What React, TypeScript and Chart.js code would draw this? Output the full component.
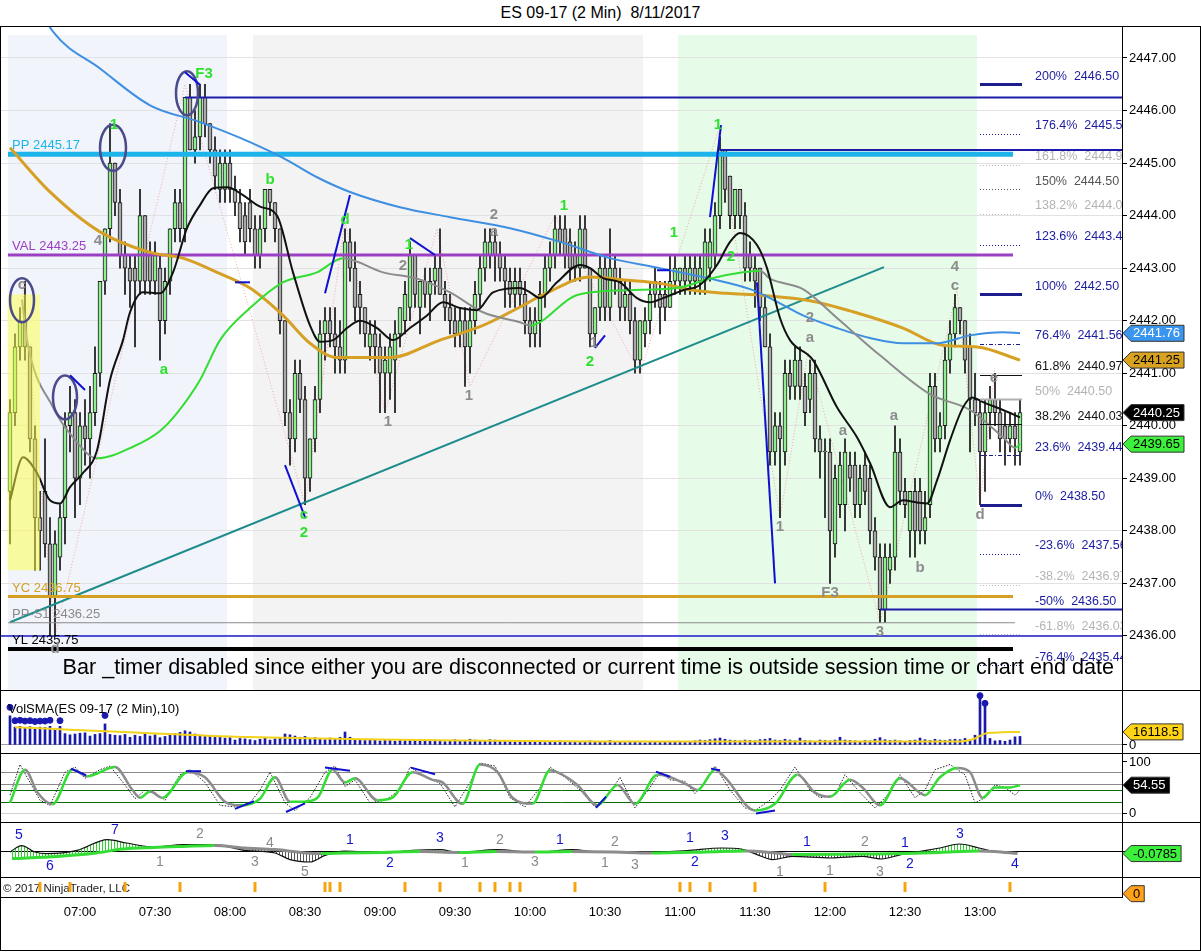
import React, { useEffect, useRef } from "react";
import { Chart, registerables } from "chart.js";

Chart.register(...registerables);

const FONT = "Arial, 'Liberation Sans', Helvetica, sans-serif";
const X_MIN = 388.4; // minutes after midnight at the left edge of the plot
const X_MAX = 836.8; // minutes after midnight at the right edge of the plot
const AXIS_W = 79;

// ---------- categories ----------
const FIRST_BAR_MIN = 392; // 06:32
const BAR_MINUTES = 2;
const timeTicks = [420, 450, 480, 510, 540, 570, 600, 630, 660, 690, 720, 750, 780];
const priceTicks = [2436, 2437, 2438, 2439, 2440, 2441, 2442, 2443, 2444, 2445, 2446, 2447];

// ---------- price bars ----------
const opens = [
  2438.75, 2440.25, 2441.5, 2442.0, 2441.5, 2439.75, 2438.25, 2438.75, 2437.75, 2436.75,
  2437.5, 2438.25, 2440.0, 2440.25, 2439.0, 2440.0, 2439.75, 2440.25, 2441.0, 2442.75,
  2443.75, 2445.0, 2444.25, 2443.25, 2443.0, 2443.0, 2442.75, 2444.0, 2443.25, 2442.75,
  2443.0, 2442.0, 2442.75, 2443.75, 2444.25, 2443.75, 2446.25, 2445.25, 2445.5, 2446.25,
  2445.75, 2445.25, 2444.5, 2444.5, 2445.0, 2444.5, 2444.25, 2444.0, 2444.25, 2443.75,
  2443.25, 2443.75, 2444.5, 2444.25, 2443.75, 2442.0, 2440.25, 2439.75, 2441.0, 2440.5,
  2439.0, 2439.75, 2440.5, 2441.75, 2442.0, 2441.75, 2441.5, 2441.25, 2443.5, 2443.0,
  2442.5, 2442.25, 2441.5, 2441.75, 2441.5, 2441.0, 2441.0, 2441.25, 2441.75, 2442.0,
  2442.25, 2443.25, 2442.25, 2442.75, 2442.5, 2442.75, 2443.0, 2442.5, 2442.25, 2442.0,
  2441.75, 2442.0, 2441.5, 2442.0, 2442.5, 2443.0, 2443.25, 2443.5, 2443.25, 2443.0,
  2442.75, 2442.5, 2442.75, 2442.5, 2442.0, 2441.75, 2442.0, 2442.5, 2443.0, 2443.25,
  2443.75, 2443.75, 2443.5, 2443.25, 2443.0, 2443.75, 2443.0, 2441.75, 2442.25, 2443.0,
  2442.25, 2443.0, 2442.75, 2442.25, 2442.5, 2442.0, 2441.25, 2441.75, 2442.0, 2442.75,
  2442.5, 2442.5, 2442.25, 2442.75, 2442.75, 2443.0, 2442.75, 2443.0, 2442.75, 2442.75,
  2443.0, 2443.25, 2444.0, 2445.25, 2444.75, 2444.0, 2444.5, 2444.0, 2443.25, 2443.0,
  2443.0, 2442.25, 2441.5, 2439.5, 2440.0, 2439.5, 2441.0, 2440.75, 2441.25, 2440.75,
  2440.5, 2441.0, 2439.75, 2439.5, 2439.5, 2437.75, 2438.5, 2438.5, 2439.25, 2439.25,
  2438.5, 2439.25, 2439.0, 2438.0, 2437.5, 2436.5, 2437.25, 2437.5, 2439.5, 2438.75,
  2438.0, 2438.75, 2438.75, 2438.0, 2438.5, 2440.75, 2439.75, 2440.0, 2441.25, 2441.75,
  2442.25, 2442.0, 2441.5, 2440.5, 2440.25, 2439.5, 2440.25, 2440.5, 2440.25, 2440.0,
  2439.75, 2440.0, 2439.5,
];
const highs = [
  2440.5, 2441.75, 2442.25, 2442.75, 2441.5, 2440.0, 2438.75, 2439.75, 2438.25, 2438.0,
  2438.5, 2440.25, 2440.75, 2440.5, 2440.25, 2440.5, 2440.75, 2441.5, 2442.75, 2443.75,
  2445.75, 2445.0, 2444.5, 2443.5, 2443.25, 2443.25, 2444.5, 2444.0, 2443.5, 2443.5,
  2443.25, 2443.0, 2443.75, 2444.5, 2444.5, 2446.25, 2446.5, 2446.0, 2446.5, 2446.5,
  2445.75, 2445.5, 2445.25, 2445.25, 2445.25, 2444.75, 2444.5, 2444.25, 2444.5, 2444.0,
  2444.0, 2444.5, 2444.5, 2444.25, 2443.75, 2442.0, 2440.5, 2441.25, 2441.25, 2440.75,
  2439.75, 2440.75, 2442.0, 2442.25, 2442.25, 2442.25, 2442.0, 2443.75, 2443.75, 2443.5,
  2442.75, 2442.25, 2442.0, 2442.0, 2441.75, 2441.5, 2441.75, 2442.0, 2442.25, 2442.75,
  2443.5, 2443.25, 2442.75, 2443.0, 2443.0, 2443.25, 2443.75, 2442.75, 2442.5, 2442.25,
  2442.25, 2442.25, 2442.25, 2442.75, 2443.25, 2443.75, 2443.75, 2443.75, 2443.5, 2443.25,
  2443.0, 2443.0, 2443.0, 2442.75, 2442.25, 2442.25, 2442.75, 2443.25, 2443.5, 2444.0,
  2444.0, 2444.0, 2443.75, 2443.5, 2444.0, 2444.0, 2443.0, 2442.25, 2443.25, 2443.25,
  2443.75, 2443.25, 2443.0, 2442.75, 2442.75, 2442.25, 2442.0, 2442.25, 2442.75, 2443.0,
  2442.75, 2442.75, 2443.25, 2443.25, 2443.0, 2443.25, 2443.25, 2443.25, 2443.25, 2443.75,
  2443.75, 2444.25, 2445.5, 2445.25, 2444.75, 2444.5, 2444.5, 2444.25, 2443.5, 2443.25,
  2443.0, 2442.5, 2441.75, 2440.25, 2440.25, 2441.25, 2441.25, 2441.5, 2441.5, 2441.0,
  2441.25, 2441.25, 2440.0, 2439.75, 2439.75, 2439.25, 2439.5, 2439.75, 2439.5, 2439.5,
  2439.25, 2439.5, 2439.25, 2438.25, 2437.75, 2437.75, 2437.75, 2440.0, 2439.75, 2439.0,
  2438.75, 2439.0, 2439.0, 2438.75, 2441.0, 2441.0, 2440.25, 2441.5, 2442.0, 2442.5,
  2442.25, 2442.0, 2441.75, 2441.0, 2440.5, 2440.5, 2440.75, 2441.0, 2440.5, 2440.25,
  2440.25, 2440.25, 2440.5,
];
const lows = [
  2437.75, 2440.0, 2441.25, 2441.25, 2439.5, 2437.25, 2437.25, 2437.5, 2436.0, 2436.0,
  2437.25, 2437.75, 2439.5, 2438.25, 2438.5, 2439.25, 2439.0, 2440.0, 2440.75, 2442.5,
  2443.5, 2444.0, 2443.0, 2442.5, 2442.25, 2441.5, 2442.5, 2442.5, 2442.5, 2442.5,
  2441.25, 2441.75, 2442.5, 2443.5, 2443.5, 2443.5, 2445.25, 2445.0, 2445.25, 2445.5,
  2445.0, 2444.5, 2444.25, 2444.25, 2444.25, 2444.0, 2443.5, 2443.25, 2443.5, 2443.0,
  2443.0, 2443.5, 2444.0, 2443.5, 2441.75, 2440.0, 2439.25, 2439.5, 2440.25, 2438.5,
  2438.75, 2439.5, 2440.25, 2441.25, 2441.5, 2441.0, 2441.0, 2441.0, 2442.75, 2442.0,
  2441.75, 2441.5, 2441.25, 2441.0, 2440.25, 2440.25, 2440.5, 2440.25, 2441.5, 2441.75,
  2442.0, 2442.25, 2441.75, 2442.25, 2442.0, 2442.5, 2442.5, 2442.0, 2441.75, 2441.5,
  2441.5, 2440.75, 2441.0, 2441.75, 2442.25, 2442.75, 2443.0, 2442.75, 2442.75, 2442.25,
  2442.25, 2442.25, 2442.25, 2441.75, 2441.5, 2441.5, 2441.5, 2442.25, 2442.75, 2443.0,
  2443.25, 2443.0, 2442.75, 2442.75, 2442.75, 2443.0, 2441.5, 2441.5, 2442.0, 2442.0,
  2442.0, 2442.5, 2442.0, 2442.0, 2441.75, 2441.0, 2441.0, 2441.5, 2441.75, 2442.25,
  2441.75, 2442.0, 2442.25, 2442.5, 2442.5, 2442.5, 2442.5, 2442.5, 2442.5, 2442.5,
  2442.75, 2443.0, 2443.75, 2444.25, 2443.75, 2443.75, 2443.75, 2442.75, 2442.75, 2442.25,
  2442.0, 2441.5, 2439.25, 2439.25, 2438.25, 2439.25, 2440.5, 2440.5, 2440.5, 2440.0,
  2440.25, 2439.5, 2439.0, 2438.25, 2437.0, 2437.5, 2438.25, 2438.0, 2438.75, 2438.25,
  2438.25, 2438.5, 2437.75, 2437.25, 2436.25, 2436.25, 2437.0, 2437.25, 2438.5, 2438.25,
  2437.5, 2437.5, 2437.75, 2437.75, 2438.25, 2439.5, 2439.5, 2439.75, 2441.0, 2441.5,
  2441.75, 2441.0, 2439.5, 2440.0, 2438.5, 2438.75, 2439.75, 2440.0, 2439.5, 2439.25,
  2439.5, 2439.25, 2439.25,
];
const closes = [
  2440.25, 2441.5, 2442.0, 2441.5, 2439.75, 2438.25, 2438.0, 2437.75, 2436.75, 2437.75,
  2438.25, 2440.0, 2440.25, 2439.0, 2440.0, 2439.75, 2440.25, 2441.0, 2442.75, 2443.75,
  2445.0, 2444.25, 2443.25, 2443.0, 2442.75, 2442.75, 2444.0, 2442.75, 2442.75, 2443.25,
  2442.0, 2442.75, 2443.75, 2444.25, 2443.75, 2446.25, 2445.25, 2445.5, 2446.25, 2445.75,
  2445.25, 2444.75, 2445.0, 2445.0, 2444.5, 2444.25, 2443.75, 2443.5, 2443.75, 2443.25,
  2443.75, 2444.5, 2444.25, 2443.75, 2442.0, 2440.25, 2439.75, 2441.0, 2440.5, 2439.0,
  2439.75, 2440.5, 2441.75, 2442.0, 2441.75, 2441.5, 2441.25, 2443.5, 2443.0, 2442.25,
  2442.25, 2441.75, 2441.75, 2441.5, 2441.0, 2441.25, 2441.5, 2441.75, 2442.25, 2442.5,
  2443.25, 2442.5, 2442.75, 2442.5, 2442.75, 2443.0, 2442.5, 2442.25, 2442.0, 2441.75,
  2442.0, 2441.5, 2442.0, 2442.5, 2443.0, 2443.5, 2443.5, 2443.25, 2443.0, 2442.75,
  2442.5, 2442.75, 2442.5, 2442.0, 2441.75, 2442.0, 2442.5, 2443.0, 2443.25, 2443.75,
  2443.5, 2443.25, 2443.0, 2443.0, 2443.75, 2443.0, 2441.75, 2442.25, 2443.0, 2442.25,
  2443.0, 2442.75, 2442.25, 2442.5, 2442.0, 2441.25, 2442.0, 2442.0, 2442.5, 2442.5,
  2442.25, 2442.25, 2442.75, 2443.0, 2443.0, 2442.75, 2443.0, 2442.75, 2443.0, 2443.5,
  2443.5, 2444.0, 2445.25, 2444.5, 2444.0, 2444.5, 2444.0, 2443.0, 2443.0, 2442.75,
  2442.25, 2441.5, 2439.5, 2440.0, 2439.75, 2441.0, 2440.75, 2441.25, 2440.75, 2440.25,
  2441.0, 2439.75, 2439.5, 2439.5, 2438.0, 2439.0, 2439.25, 2439.5, 2439.0, 2438.5,
  2439.0, 2438.75, 2438.0, 2437.5, 2436.5, 2437.5, 2437.5, 2439.5, 2438.75, 2438.5,
  2438.75, 2438.0, 2438.0, 2438.25, 2440.75, 2439.75, 2440.0, 2441.25, 2441.75, 2442.25,
  2442.0, 2441.25, 2440.5, 2440.25, 2439.5, 2440.25, 2440.5, 2440.25, 2439.75, 2439.75,
  2440.0, 2439.75, 2440.25,
];

// ---------- volume ----------
const volumes = [
  36000, 22000, 23000, 21500, 22500, 21000, 22000, 21500, 23000, 19500, 23000,
  14000, 12500, 13500, 14500, 15000, 11000, 13000, 14000, 26000,
  13000, 12000, 11500, 13000, 9500, 12000, 10500, 14000, 11000, 12500, 9000, 10500, 12000,
  14000, 15500, 17500, 16000, 13500, 12000, 10500, 11500, 9500, 10000, 8500, 9000,
  6000, 8000, 7500, 6500, 5500, 7000, 8500, 6000, 7500, 9000, 13500, 12500, 11000, 9500,
  10500, 8000, 9000, 7500, 6500, 8500, 7000, 9500, 16000,
  9500, 7000, 6000, 5500, 7000, 6500, 5000, 6000, 5500, 4500, 6000, 5000,
  6500, 5500, 5000, 4500, 5500, 6000, 5000, 4000, 5500, 6500, 4500, 5000,
  7000, 6000, 5500, 5000, 6500, 6000, 5000, 4500, 4000, 3500, 4500, 5000,
  4000, 3500, 4500, 3000, 4000, 3500, 5000, 4500, 3500, 4000, 3000, 4500, 5000, 4000, 3500, 4500, 5500,
  4000, 3500, 3000, 4500, 4000, 3000, 2500, 3500, 4000, 3000, 3500, 4000,
  3500, 4500, 3000, 4000, 5000, 6000, 5500, 6500, 7500, 8500, 7000, 6000,
  5500, 5000, 6000, 5500, 5000, 6500, 7000, 8000, 6000, 5500, 7000, 6000,
  5000, 8500, 5500, 5000, 4500, 6000, 5500, 5000, 6000, 9500, 6000, 5500,
  5000, 4500, 5500, 5000, 7000, 9000, 6500, 5500, 6000, 5000, 4500, 5500,
  6000, 8500, 6500, 5500, 7000, 6000, 5500, 6500, 7000, 6500, 8000, 6000, 12000,
  60000, 50000, 8000, 5000, 5500, 4500, 6000, 10000, 10500,
];
const volDotBars = [0, 1, 2, 3, 4, 5, 6, 7, 8, 10, 19, 194, 195];
const volDotValues = [46500, 30000, 30500, 29500, 30000, 29000, 29500, 29500, 30500, 30000, 36500, 61000, 51500];
const volSmaT = [394, 418, 448, 480, 510, 540, 572, 628, 700, 772, 778, 782, 786, 796];
const volSmaV = [22000, 18500, 14500, 10300, 8300, 6600, 5400, 4300, 4100, 4300, 8000, 14000, 15200, 16118.5];

// ---------- moving averages on price ----------
const blueMaT = [400, 409.2, 428, 448, 468, 488, 501.2, 514.8, 528, 548, 568, 592, 612, 632, 652, 672, 688, 696, 709.2, 722.8, 736, 749.2, 762.8, 776, 789.2, 796];
const blueMaV = [2448.3, 2447.5, 2446.8, 2446.1, 2445.78, 2445.4, 2445.1, 2444.73, 2444.45, 2444.16, 2443.97, 2443.76, 2443.5, 2443.19, 2443.0, 2442.8, 2442.6, 2442.43, 2442.1, 2441.86, 2441.67, 2441.57, 2441.57, 2441.72, 2441.78, 2441.76];
const goldMaT = [392, 408, 428, 448, 461.2, 474.8, 488, 501.2, 512, 522.8, 544, 564, 581.2, 596, 605.2, 624, 638.8, 652, 665.2, 678.8, 693.2, 712, 729.2, 749.2, 765.2, 778.8, 796];
const goldMaV = [2445.29, 2444.45, 2443.69, 2443.3, 2443.19, 2442.92, 2442.62, 2442.1, 2441.57, 2441.3, 2441.3, 2441.63, 2441.91, 2442.26, 2442.49, 2442.83, 2442.77, 2442.71, 2442.58, 2442.52, 2442.48, 2442.38, 2442.17, 2441.86, 2441.53, 2441.5, 2441.25];
const swingMaT = [396.8, 398.8, 409.2, 417.2, 426.8, 441.2, 452, 458.8, 468, 476, 488, 501.2, 514.8, 525.2, 541.2, 554.8, 568, 581.2, 596, 600, 618.8, 638.8, 658.8, 672, 685.2, 692, 696, 709.2, 722.8, 740, 760, 776, 789.2, 794, 796];
const swingMaV = [2442.4, 2441.63, 2440.35, 2439.78, 2439.38, 2439.6, 2439.9, 2440.24, 2440.87, 2441.63, 2442.24, 2442.73, 2442.92, 2443.19, 2442.92, 2442.8, 2442.54, 2442.16, 2441.97, 2441.91, 2442.49, 2442.58, 2442.62, 2442.8, 2442.92, 2442.95, 2442.8, 2442.6, 2442.05, 2441.34, 2440.6, 2440.3, 2439.78, 2439.58, 2439.65];
const fastMaT = [392, 397.2, 402.8, 408, 412, 416, 421.2, 426.8, 432, 437.2, 440, 445.2, 452, 457.2, 462.8, 468, 473.2, 478.8, 485.2, 492, 498.8, 505.2, 512, 516, 521.2, 526.8, 532, 538.8, 545.2, 552, 558.8, 565.2, 572, 578.8, 585.2, 596, 600, 604, 610.8, 620, 624, 629.2, 636, 642.8, 648, 653.2, 661.2, 668, 674.8, 680, 684, 690.8, 694.8, 700, 704, 713.2, 722.8, 730.8, 736, 744, 749.2, 754.8, 758.8, 762.8, 768, 773.2, 776.8, 781.2, 789.2, 796];
const fastMaV = [2438.58, 2439.4, 2439.1, 2438.58, 2438.52, 2438.83, 2439.1, 2439.53, 2440.87, 2441.63, 2442.16, 2442.54, 2442.52, 2442.92, 2443.76, 2444.2, 2444.52, 2444.54, 2444.39, 2444.17, 2444.0, 2442.92, 2441.91, 2441.6, 2441.63, 2441.86, 2442.0, 2441.86, 2441.63, 2441.86, 2442.1, 2442.35, 2442.24, 2442.2, 2442.54, 2442.62, 2442.54, 2442.43, 2442.73, 2443.06, 2443.0, 2442.81, 2442.73, 2442.43, 2442.35, 2442.43, 2442.58, 2442.68, 2443.06, 2443.5, 2443.67, 2443.44, 2443.0, 2442.05, 2441.63, 2441.25, 2440.35, 2439.78, 2439.29, 2438.45, 2438.58, 2438.54, 2438.52, 2438.96, 2439.72, 2440.35, 2440.54, 2440.45, 2440.3, 2440.16];
const trendT = [392, 741.6];
const trendV = [2436.26, 2443.02];
const zigzagT = [396.8, 410, 462, 510, 526, 542, 562.8, 576, 610, 644, 675.2, 700, 711.2, 740, 770.8, 780, 786];
const zigzagV = [2442.75, 2436.0, 2446.5, 2438.5, 2443.9, 2440.25, 2443.75, 2440.75, 2444.0, 2441.0, 2445.6, 2438.25, 2441.4, 2436.25, 2442.6, 2438.5, 2441.1];

// ---------- horizontal levels ----------
const levelNames = ["PP", "VAL", "YC", "PP-S1", "", "YL", "", "", ""];
const levelValues = [2445.17, 2443.25, 2436.75, 2436.25, 2436.0, 2435.75, 2446.25, 2445.25, 2436.5];
const levelStarts = [391.2, 391.2, 391.2, 391.2, X_MIN, 391.2, 462, 676, 740];
const levelEnds = [793.2, 793.2, 793.2, 794, X_MAX, 793.2, X_MAX, X_MAX, X_MAX];

// ---------- fibonacci projection ----------
const fibPct = ["200%", "176.4%", "161.8%", "150%", "138.2%", "123.6%", "100%", "76.4%", "61.8%", "50%", "38.2%", "23.6%", "0%", "-23.6%", "-38.2%", "-50%", "-61.8%", "-76.4%"];
const fibPrice = [2446.5, 2445.56, 2444.97, 2444.5, 2444.03, 2443.44, 2442.5, 2441.56, 2440.97, 2440.5, 2440.03, 2439.44, 2438.5, 2437.56, 2436.97, 2436.5, 2436.03, 2435.44];
const fibTone = ["n", "n", "l", "d", "l", "n", "n", "n", "k", "l", "k", "n", "n", "n", "l", "n", "l", "n"];
const fibMark = ["thick", "dot", "dotl", "dotd", "dotl", "dot", "thick", "dashdot", "solid", "gray", "solid", "dashdot", "thick", "dot", "dotl", "none", "dotl", "dot"];
const FIB_START = 780;
const FIB_END = 796.8;
const FIB_TEXT_T = 802;

// ---------- sessions ----------
const sessionStarts = [391.2, 489.2, 659.2];
const sessionEnds = [478.8, 645.2, 778.8];
const highlight = [391, 404, 2437.25, 2442.5];

// ---------- price annotations ----------
const annoText = ["F3", "1", "b", "d", "1", "1", "1", "1", "2", "a", "c", "2", "2",
  "c", "d", "4", "2", "2", "a", "1", "1", "1", "2", "a", "1", "a", "F3", "3", "a", "b", "4", "c", "e", "d"];
const annoT = [469.6, 433.6, 496, 526, 551.6, 613.6, 657.6, 675.2, 680.4, 453.6, 509.6, 509.6, 624,
  396.8, 410, 427.2, 549.2, 585.6, 585.6, 543.2, 575.6, 625.6, 712, 712, 700, 725.2, 720, 740, 745.6, 756, 770, 770, 785.6, 780];
const annoP = [2446.7, 2445.72, 2444.68, 2443.91, 2443.44, 2444.18, 2443.67, 2445.72, 2443.21, 2441.06, 2438.3, 2437.97, 2441.21,
  2442.68, 2435.76, 2443.51, 2443.04, 2444.01, 2443.69, 2440.07, 2440.56, 2441.57, 2442.05, 2441.67, 2438.07, 2439.91, 2436.81, 2436.07, 2440.18, 2437.3, 2443.02, 2442.66, 2440.92, 2438.3];
const annoGreenCount = 13;
const ellipseT = [396.8, 414, 433.2, 462.8];
const ellipseP = [2442.39, 2440.54, 2445.29, 2446.33];
const priceSegments = [
  [416, 2440.96, 422, 2440.68], [462, 2446.73, 468, 2446.49], [518, 2442.52, 528, 2444.39],
  [552, 2443.57, 562, 2443.25], [502, 2439.25, 510, 2438.26], [626, 2441.48, 630, 2441.72],
  [672, 2443.97, 676.4, 2445.72], [690.8, 2442.73, 698, 2437.0], [650.8, 2442.96, 656, 2442.96],
  [482, 2442.73, 488, 2442.73],
];

// ---------- stochastics ----------
const stochDT = [392, 398, 403, 409, 417, 423, 434, 441, 444, 448, 453, 463, 470, 478, 484, 492, 498, 504, 509, 515, 521, 526, 530, 539, 545, 553, 561, 565, 573, 580, 587, 593, 601, 608, 613, 619, 627, 635, 642, 651, 655, 663, 667, 674, 678, 690, 698, 707, 714, 720, 728, 733, 740, 748, 758, 764, 771, 776, 781, 786, 792, 796];
const stochDV = [20, 85, 40, 17, 85, 72, 90, 45, 30, 42, 30, 80, 70, 22, 15, 28, 70, 22, 22, 30, 85, 60, 68, 25, 30, 80, 65, 60, 18, 95, 80, 30, 18, 84, 75, 55, 15, 55, 18, 75, 72, 55, 45, 85, 70, 5, 18, 75, 40, 32, 65, 50, 15, 68, 35, 70, 88, 80, 30, 50, 50, 54.55];
const stochKT = [392, 396, 400, 404, 408, 414, 418, 422, 428, 432, 438, 442, 446, 450, 454, 460, 464, 470, 476, 482, 488, 492, 496, 502, 506, 512, 518, 522, 526, 530, 536, 542, 548, 552, 558, 564, 570, 576, 580, 586, 592, 598, 604, 608, 614, 620, 626, 632, 636, 642, 648, 652, 656, 662, 666, 670, 674, 680, 686, 690, 696, 700, 706, 712, 716, 722, 726, 732, 738, 744, 748, 754, 758, 762, 768, 774, 778, 782, 786, 790, 794, 796];
const stochKV = [35, 95, 60, 25, 15, 80, 90, 68, 85, 92, 55, 28, 45, 40, 25, 75, 85, 60, 15, 12, 20, 45, 80, 20, 5, 30, 80, 92, 52, 65, 20, 25, 45, 90, 72, 58, 12, 60, 98, 92, 30, 12, 50, 90, 70, 45, 12, 40, 70, 10, 50, 80, 65, 62, 38, 60, 92, 45, 10, 5, 25, 45, 90, 45, 30, 35, 75, 40, 10, 40, 75, 30, 45, 85, 95, 75, 20, 30, 55, 50, 35, 45];
const stochLevels = [0, 20, 45, 55, 80, 100];
const stochSegments = [
  [416.4, 87, 422.4, 74], [462.4, 82, 468.4, 82], [482, 8, 489.6, 23], [502.4, 2, 510, 19],
  [518, 89, 528, 83], [552.4, 89, 562, 76], [626.4, 10, 630.4, 32], [650.4, 81, 656, 71],
  [672.4, 87, 676, 84], [690.4, -1, 698, 5],
];

// ---------- MACD ----------
const macdT = [392, 396.6, 402, 406.6, 418.8, 431, 438.6, 449, 461.5, 473.7, 486, 498, 504, 512, 518, 525.7, 541, 553, 564, 571.5, 586.7, 602, 617, 627.7, 648.7, 662.7, 676.7, 684.5, 690.8, 697, 704.8, 720.4, 732.8, 740.6, 748.4, 764, 771.8, 779.6, 785.8, 795];
const macdV = [0, 0.32, 0, -0.08, 0.08, 0.62, 0.45, 0.25, 0.37, 0.37, 0.08, -0.05, -0.38, -0.5, -0.17, 0.05, -0.05, 0.08, 0.12, -0.02, 0.12, -0.02, 0.12, 0, 0, 0.07, 0.2, 0.15, -0.13, -0.38, -0.22, -0.3, -0.22, -0.35, -0.13, 0.2, 0.4, 0.2, 0.03, 0];
const signalT = [392.8, 411, 426.4, 437, 449.3, 461.5, 473.7, 486, 498, 510.4, 516.5, 525.7, 541, 556, 571.5, 586.7, 602, 617, 639, 648.7, 670.5, 686, 698.5, 704.8, 732.8, 748.4, 764, 779.6, 785.8, 795];
const signalV = [-0.33, -0.22, -0.05, 0.15, 0.23, 0.28, 0.32, 0.2, 0.12, -0.05, -0.08, -0.05, -0.02, 0.02, -0.02, 0.03, 0, 0.03, -0.02, -0.05, 0, 0.05, -0.05, -0.13, -0.1, -0.08, -0.02, 0.05, 0.03, -0.0785];
const macdLabelText = ["5", "6", "7", "2", "1", "4", "3", "5", "1", "2", "3", "1", "2", "3", "1", "1", "3", "2", "1", "2", "3", "1", "1", "1", "2", "3", "1", "2", "3", "4"];
const macdLabelT = [395.6, 408, 434, 468, 452, 496, 490, 510, 528, 544, 564, 574, 588, 602, 612, 630, 642, 634, 664, 666, 678, 700, 710.8, 720, 734, 740, 750, 752, 772, 794];
const macdLabelV = [0.85, -0.7, 1.1, 0.9, -0.5, 0.45, -0.5, -1.0, 0.6, -0.55, 0.7, -0.55, 0.6, -0.5, 0.6, -0.55, -0.65, 0.5, 0.7, -0.5, 0.8, -1.0, 0.5, -0.95, 0.5, -1.0, 0.45, -0.6, 0.9, -0.6];
const macdLabelTone = ["b", "b", "b", "g", "g", "g", "g", "g", "b", "b", "b", "g", "g", "g", "b", "g", "g", "g", "b", "b", "b", "g", "b", "g", "g", "g", "b", "b", "b", "b"];

// ---------- marker panel ----------
const markTimes = [404, 416, 438, 460, 490, 518, 520, 524, 550, 564, 580, 586, 592, 596, 618, 660, 664, 672, 690, 718, 750, 792];

// ---------- helpers ----------
const GREEN = "#33dd33";
const GRAY = "#8c8c8c";
const NAVY = "#1c1c8c";
const barTimes = opens.map((_, i) => FIRST_BAR_MIN + i * BAR_MINUTES);
const pts = (ts: number[], vs: number[]) => ts.map((t, i) => ({ x: t, y: vs[i] }));
const slopeColor = (c: any) => (c.p1.parsed.y >= c.p0.parsed.y ? GREEN : GRAY);

function fmtTime(v: number) {
  const h = Math.floor(v / 60);
  const m = Math.round(v - h * 60);
  return `${String(h).padStart(2, "0")}:${String(m).padStart(2, "0")}`;
}

function xAxis(display = false): any {
  return { type: "linear", min: X_MIN, max: X_MAX, display, offset: false, grid: { display: false } };
}

function noPad(s: any) {
  s.paddingTop = 0;
  s.paddingBottom = 0;
  s.paddingLeft = 0;
  s.paddingRight = 0;
}

function rightAxis(min: number, max: number, ticks: number[], extra: any = {}): any {
  return {
    type: "linear",
    position: "right",
    min,
    max,
    afterFit: (s: any) => { s.width = AXIS_W; noPad(s); },
    afterBuildTicks: (s: any) => { s.ticks = ticks.map((v) => ({ value: v })); },
    border: { display: true, color: "#000", width: 1 },
    grid: { color: "#e2e2e2", tickColor: "#000", tickLength: 5, ...(extra.grid || {}) },
    ticks: { color: "#000", padding: 2, autoSkip: false, font: { family: FONT, size: 13 }, ...(extra.ticks || {}) },
  };
}

function baseOptions(scales: any): any {
  return {
    responsive: false,
    animation: false,
    devicePixelRatio: 1,
    events: [],
    layout: { autoPadding: false, padding: { left: 1, right: 0, top: 0, bottom: 0 } },
    plugins: { legend: { display: false }, tooltip: { enabled: false } },
    scales,
  };
}

function drawTag(ctx: any, x0: number, y: number, text: string, fill: string, color: string) {
  ctx.save();
  ctx.font = `13px ${FONT}`;
  const w = ctx.measureText(text).width + 6;
  const h = 16;
  ctx.beginPath();
  ctx.moveTo(x0, y);
  ctx.lineTo(x0 + 8, y - h / 2);
  ctx.lineTo(x0 + 8 + w, y - h / 2);
  ctx.lineTo(x0 + 8 + w, y + h / 2);
  ctx.lineTo(x0 + 8, y + h / 2);
  ctx.closePath();
  ctx.fillStyle = fill;
  ctx.fill();
  ctx.strokeStyle = "#333";
  ctx.lineWidth = 1;
  ctx.stroke();
  ctx.fillStyle = color;
  ctx.textAlign = "left";
  ctx.textBaseline = "middle";
  ctx.fillText(text, x0 + 10, y + 0.5);
  ctx.restore();
}

function clip(ctx: any, a: any) {
  ctx.save();
  ctx.beginPath();
  ctx.rect(a.left, a.top, a.right - a.left, a.bottom - a.top);
  ctx.clip();
}

function stripes(color: string) {
  const c = document.createElement("canvas");
  c.width = 3;
  c.height = 4;
  const g = c.getContext("2d") as CanvasRenderingContext2D;
  g.fillStyle = color;
  g.fillRect(0, 0, 1, 4);
  return g.createPattern(c, "repeat");
}

// ---------- chart configs ----------
const levelColors = ["#1cb4ea", "#9b3fc4", "#d5a022", "#8a8a8a", "#1c1ccc", "#000000", "#1c1ca8", "#1c1ca8", "#1c1ca8"];
const levelWidths = [5, 3, 3, 1, 1.5, 4, 2, 2, 2];

function priceConfig(): any {
  const levelSets = levelValues.map((v, i) => ({
    type: "line",
    data: [{ x: levelStarts[i], y: v }, { x: levelEnds[i], y: v }],
    borderColor: levelColors[i],
    borderWidth: levelWidths[i],
    pointRadius: 0,
    order: 6,
  }));
  const plugin = {
    id: "priceDecor",
    beforeDraw(chart: any) {
      const { ctx, chartArea: a, scales: { x } } = chart;
      ctx.save();
      const cols = ["#f1f4fb", "#f3f3f3", "#e7fbe9"];
      sessionStarts.forEach((s, i) => {
        const x1 = x.getPixelForValue(s);
        const x2 = x.getPixelForValue(sessionEnds[i]);
        ctx.fillStyle = cols[i];
        ctx.fillRect(x1, a.top + 8, x2 - x1, a.bottom - a.top - 8);
      });
      ctx.restore();
    },
    afterDatasetsDraw(chart: any) {
      const { ctx, chartArea: a, scales: { x, y } } = chart;
      clip(ctx, a);
      // yellow highlight box
      ctx.fillStyle = "rgba(255,255,70,0.5)";
      const hx1 = x.getPixelForValue(highlight[0]);
      const hx2 = x.getPixelForValue(highlight[1]);
      const hy1 = y.getPixelForValue(highlight[3]);
      const hy2 = y.getPixelForValue(highlight[2]);
      ctx.fillRect(hx1, hy1, hx2 - hx1, hy2 - hy1);
      // level labels
      ctx.font = `13px ${FONT}`;
      ctx.textAlign = "left";
      ctx.textBaseline = "middle";
      levelNames.forEach((n, i) => {
        if (!n) return;
        ctx.fillStyle = i === 5 ? "#000" : levelColors[i];
        ctx.fillText(`${n} ${levelValues[i].toFixed(2)}`, a.left + 11, y.getPixelForValue(levelValues[i]) - 8.5);
      });
      // fib markers and labels
      fibPrice.forEach((p, i) => {
        const py = Math.round(y.getPixelForValue(p)) + 0.5;
        const x1 = x.getPixelForValue(FIB_START);
        const x2 = x.getPixelForValue(FIB_END);
        const st = fibMark[i];
        if (st !== "none") {
          ctx.save();
          ctx.beginPath();
          ctx.moveTo(x1, py);
          ctx.lineTo(x2, py);
          ctx.lineWidth = st === "thick" ? 3 : st === "gray" ? 2 : 1;
          ctx.strokeStyle = st === "dotl" ? "#b8b8b8" : st === "dotd" ? "#555" : st === "gray" ? "#b0b0b0" : st === "solid" ? "#111" : NAVY;
          if (st.startsWith("dot")) ctx.setLineDash([1, 2]);
          if (st === "dashdot") ctx.setLineDash([4, 2, 1, 2]);
          ctx.stroke();
          ctx.restore();
        }
        const tone = fibTone[i];
        ctx.fillStyle = tone === "n" ? "#1c1ca0" : tone === "l" ? "#b4b4b4" : tone === "d" ? "#555" : "#111";
        ctx.font = `12.5px ${FONT}`;
        ctx.fillText(`${fibPct[i]}  ${p.toFixed(2)}`, x.getPixelForValue(FIB_TEXT_T), y.getPixelForValue(p) - 8);
      });
      // ellipses
      ctx.strokeStyle = "#4a4a8c";
      ctx.lineWidth = 2.5;
      const rx = [12, 12, 13, 11];
      const ry = [22, 22, 23, 22];
      ellipseT.forEach((t, i) => {
        ctx.beginPath();
        ctx.ellipse(x.getPixelForValue(t), y.getPixelForValue(ellipseP[i]), rx[i], ry[i], 0, 0, Math.PI * 2);
        ctx.stroke();
      });
      // blue segments
      ctx.strokeStyle = "#1010d0";
      ctx.lineWidth = 2;
      priceSegments.forEach((s) => {
        ctx.beginPath();
        ctx.moveTo(x.getPixelForValue(s[0]), y.getPixelForValue(s[1]));
        ctx.lineTo(x.getPixelForValue(s[2]), y.getPixelForValue(s[3]));
        ctx.stroke();
      });
      // wave labels
      ctx.font = `bold 15px ${FONT}`;
      ctx.textAlign = "center";
      annoText.forEach((t, i) => {
        ctx.fillStyle = i < annoGreenCount ? "#2fe02f" : "#8c8c8c";
        ctx.fillText(t, x.getPixelForValue(annoT[i]), y.getPixelForValue(annoP[i]));
      });
      // bar timer message
      ctx.font = `21.6px ${FONT}`;
      ctx.textAlign = "right";
      ctx.fillStyle = "#000";
      ctx.fillText("Bar _timer disabled since either you are disconnected or current time is outside session time or chart end date", a.right - 8, a.bottom - 22);
      ctx.restore();
    },
    afterDraw(chart: any) {
      const { ctx, chartArea: a, scales: { y } } = chart;
      const tags = [
        [blueMaV[blueMaV.length - 1], "#3a95ee", "#fff"],
        [goldMaV[goldMaV.length - 1], "#d9a321", "#000"],
        [closes[closes.length - 1], "#000", "#fff"],
        [swingMaV[swingMaV.length - 1], "#3cf03c", "#000"],
      ];
      tags.forEach((t: any) => drawTag(ctx, a.right + 1, y.getPixelForValue(t[0]), t[0].toFixed(2), t[1], t[2]));
    },
  };
  return {
    type: "line",
    data: {
      datasets: [
        { type: "line", data: pts(zigzagT, zigzagV), borderColor: "#f0a8a8", borderWidth: 1, borderDash: [1, 2], pointRadius: 0, order: 30 },
        { type: "bar", data: barTimes.map((t, i) => ({ x: t, y: [lows[i], highs[i]] })), backgroundColor: "#111", barThickness: 1, grouped: false, order: 21 },
        {
          type: "bar",
          data: barTimes.map((t, i) => ({ x: t, y: [opens[i], closes[i]] })),
          backgroundColor: (c: any) => (closes[c.dataIndex] >= opens[c.dataIndex] ? "#90ee90" : "#a9a9a9"),
          borderColor: "#1a1a1a",
          borderWidth: 1,
          borderSkipped: false,
          barThickness: 4,
          minBarLength: 1,
          grouped: false,
          order: 20,
        },
        { type: "line", data: pts(trendT, trendV), borderColor: "#1e8c8c", borderWidth: 2, pointRadius: 0, order: 7 },
        ...levelSets,
        { type: "line", data: pts(goldMaT, goldMaV), borderColor: "#d6a024", borderWidth: 3, pointRadius: 0, cubicInterpolationMode: "monotone", order: 5 },
        { type: "line", data: pts(blueMaT, blueMaV), borderColor: "#3e8fe2", borderWidth: 2, pointRadius: 0, cubicInterpolationMode: "monotone", order: 4 },
        { type: "line", data: pts(swingMaT, swingMaV), borderColor: GRAY, segment: { borderColor: slopeColor }, borderWidth: 2, pointRadius: 0, cubicInterpolationMode: "monotone", order: 3 },
        { type: "line", data: pts(fastMaT, fastMaV), borderColor: "#111", borderWidth: 2, pointRadius: 0, cubicInterpolationMode: "monotone", order: 2 },
      ],
    },
    options: baseOptions({
      x: xAxis(false),
      y: rightAxis(2434.97, 2447.59, priceTicks, { ticks: { callback: (v: any) => Number(v).toFixed(2) } }),
    }),
    plugins: [plugin],
  };
}

function volumeConfig(): any {
  const plugin = {
    id: "volDecor",
    afterDatasetsDraw(chart: any) {
      const { ctx, chartArea: a } = chart;
      ctx.save();
      ctx.font = `13px ${FONT}`;
      ctx.fillStyle = "#000";
      ctx.textBaseline = "middle";
      ctx.fillText("VolSMA(ES 09-17 (2 Min),10)", a.left + 7, a.top + 19);
      ctx.restore();
    },
    afterDraw(chart: any) {
      const { ctx, chartArea: a, scales: { y } } = chart;
      const v = volSmaV[volSmaV.length - 1];
      drawTag(ctx, a.right + 1, y.getPixelForValue(v), v.toFixed(1), "#ffd414", "#000");
    },
  };
  return {
    type: "line",
    data: {
      datasets: [
        { type: "bar", data: barTimes.map((t, i) => ({ x: t, y: volumes[i] })), backgroundColor: "#1a1aa6", barThickness: 2, grouped: false, order: 5 },
        { type: "line", data: pts(volSmaT, volSmaV), borderColor: "#f2d21a", borderWidth: 2, pointRadius: 0, cubicInterpolationMode: "monotone", order: 3 },
        { type: "line", data: volDotBars.map((b, i) => ({ x: barTimes[b], y: volDotValues[i] })), showLine: false, pointRadius: 3, pointBackgroundColor: "#1a1ab0", pointBorderColor: "#1a1ab0", order: 1 },
      ],
    },
    options: baseOptions({
      x: xAxis(false),
      y: rightAxis(-10000, 68000, [0], { grid: { color: "#a0a0a0" }, ticks: { callback: () => "0" } }),
    }),
    plugins: [plugin],
  };
}

function stochConfig(): any {
  const gridCols = ["#d0d0d0", "#0b6b0b", "#0b6b0b", "#8a8a8a", "#8a8a8a", "rgba(0,0,0,0)"];
  const plugin = {
    id: "stochDecor",
    afterDatasetsDraw(chart: any) {
      const { ctx, chartArea: a, scales: { x, y } } = chart;
      clip(ctx, a);
      ctx.strokeStyle = "#1010d0";
      ctx.lineWidth = 2;
      stochSegments.forEach((s) => {
        ctx.beginPath();
        ctx.moveTo(x.getPixelForValue(s[0]), y.getPixelForValue(s[1]));
        ctx.lineTo(x.getPixelForValue(s[2]), y.getPixelForValue(s[3]));
        ctx.stroke();
      });
      ctx.restore();
    },
    afterDraw(chart: any) {
      const { ctx, chartArea: a, scales: { y } } = chart;
      const v = stochDV[stochDV.length - 1];
      drawTag(ctx, a.right + 1, y.getPixelForValue(v), v.toFixed(2), "#000", "#fff");
    },
  };
  return {
    type: "line",
    data: {
      datasets: [
        { type: "line", data: pts(stochKT, stochKV), borderColor: "#222", borderWidth: 1, borderDash: [1.5, 1.5], pointRadius: 0, order: 2 },
        { type: "line", data: pts(stochDT, stochDV), borderColor: GREEN, segment: { borderColor: slopeColor }, borderWidth: 2.5, pointRadius: 0, cubicInterpolationMode: "monotone", order: 1 },
      ],
    },
    options: baseOptions({
      x: xAxis(false),
      y: rightAxis(-17.6, 117.6, stochLevels, {
        grid: {
          color: (c: any) => gridCols[c.index] || "rgba(0,0,0,0)",
          tickColor: (c: any) => (c.index === 0 || c.index === 5 ? "#000" : "rgba(0,0,0,0)"),
        },
        ticks: { callback: (v: any) => (v === 0 || v === 100 ? String(v) : "") },
      }),
    }),
    plugins: [plugin],
  };
}

function macdConfig(): any {
  const plugin = {
    id: "macdDecor",
    afterDatasetsDraw(chart: any) {
      const { ctx, chartArea: a, scales: { x, y } } = chart;
      clip(ctx, a);
      ctx.font = `14px ${FONT}`;
      ctx.textAlign = "center";
      ctx.textBaseline = "middle";
      macdLabelText.forEach((t, i) => {
        ctx.fillStyle = macdLabelTone[i] === "b" ? "#1515c8" : "#8a8a8a";
        ctx.fillText(t, x.getPixelForValue(macdLabelT[i]), y.getPixelForValue(macdLabelV[i]));
      });
      ctx.restore();
    },
    afterDraw(chart: any) {
      const { ctx, chartArea: a, scales: { y } } = chart;
      const v = signalV[signalV.length - 1];
      drawTag(ctx, a.right + 1, y.getPixelForValue(v), v.toFixed(4), "#3cf03c", "#000");
    },
  };
  return {
    type: "line",
    data: {
      datasets: [
        { type: "line", data: pts(signalT, signalV), borderColor: GREEN, segment: { borderColor: slopeColor }, borderWidth: 3, pointRadius: 0, cubicInterpolationMode: "monotone", order: 1 },
        {
          type: "line",
          data: pts(macdT, macdV),
          borderColor: "#111",
          borderWidth: 1.2,
          pointRadius: 0,
          cubicInterpolationMode: "monotone",
          fill: { target: 0, above: stripes("#2fcf2f"), below: stripes("#555555") },
          order: 2,
        },
      ],
    },
    options: baseOptions({
      x: xAxis(false),
      y: rightAxis(-1.25, 1.5, [0], { grid: { color: "#000" }, ticks: { callback: () => "" } }),
    }),
    plugins: [plugin],
  };
}

function marksConfig(): any {
  const plugin = {
    id: "marksDecor",
    beforeDatasetsDraw(chart: any) {
      const { ctx, chartArea: a } = chart;
      ctx.save();
      ctx.font = `11.5px ${FONT}`;
      ctx.fillStyle = "#222";
      ctx.textBaseline = "middle";
      ctx.fillText("© 2017 NinjaTrader, LLC", a.left + 2, a.top + 12);
      ctx.restore();
    },
    afterDraw(chart: any) {
      const { ctx, chartArea: a, scales: { y } } = chart;
      drawTag(ctx, a.right + 1, y.getPixelForValue(0), "0", "#ffa21a", "#000");
    },
  };
  return {
    type: "line",
    data: {
      datasets: [
        {
          type: "line",
          data: markTimes.map((t) => ({ x: t, y: 0.4 })),
          showLine: false,
          pointStyle: "line",
          rotation: 90,
          pointRadius: 5,
          pointBorderWidth: 3,
          pointBorderColor: "#f5a40c",
          borderColor: "#f5a40c",
        },
      ],
    },
    options: baseOptions({
      x: {
        type: "linear",
        min: X_MIN,
        max: X_MAX,
        position: "bottom",
        offset: false,
        afterFit: (s: any) => { s.height = 54; noPad(s); },
        afterBuildTicks: (s: any) => { s.ticks = timeTicks.map((v) => ({ value: v })); },
        grid: { display: false, drawTicks: false },
        border: { display: false },
        ticks: { color: "#000", padding: 8, maxRotation: 0, autoSkip: false, font: { family: FONT, size: 13 }, callback: (v: any) => fmtTime(Number(v)) },
      },
      y: rightAxis(-0.2, 1, [0], { grid: { display: false }, ticks: { callback: () => "" } }),
    }),
    plugins: [plugin],
  };
}

// ---------- layout ----------
const PANELS = [
  { key: "price", top: 27, height: 663 },
  { key: "vol", top: 690, height: 63 },
  { key: "stoch", top: 753, height: 69 },
  { key: "macd", top: 822, height: 55 },
  { key: "marks", top: 877, height: 74 },
];

export default function App() {
  const refs = [useRef<HTMLCanvasElement>(null), useRef<HTMLCanvasElement>(null), useRef<HTMLCanvasElement>(null), useRef<HTMLCanvasElement>(null), useRef<HTMLCanvasElement>(null)];

  useEffect(() => {
    document.body.style.margin = "0";
    const builders = [priceConfig, volumeConfig, stochConfig, macdConfig, marksConfig];
    const charts: Chart[] = [];
    builders.forEach((b, i) => {
      const el = refs[i].current;
      if (el) charts.push(new Chart(el, b()));
    });
    return () => charts.forEach((c) => c.destroy());
  }, []);

  const line = (left: number, top: number, width: number, height: number, key: string) => (
    <div key={key} style={{ position: "absolute", left, top, width, height, background: "#000" }} />
  );

  return (
    <div style={{ position: "absolute", left: 0, top: 0, width: 1201, height: 952, background: "#fff", overflow: "hidden", fontFamily: FONT }}>
      <div style={{ position: "absolute", left: 0, top: 4, width: 1201, textAlign: "center", fontSize: 16, whiteSpace: "pre", color: "#000" }}>
        {"ES 09-17 (2 Min)  8/11/2017"}
      </div>
      {PANELS.map((p, i) => (
        <canvas key={p.key} ref={refs[i]} width={1201} height={p.height} style={{ position: "absolute", left: 0, top: p.top, width: 1201, height: p.height, display: "block" }} />
      ))}
      {line(0, 26, 1201, 1, "t")}
      {line(0, 26, 1, 925, "l")}
      {line(1200, 26, 1, 925, "r")}
      {line(0, 950, 1201, 1, "b")}
      {line(0, 690, 1201, 1, "s1")}
      {line(0, 753, 1201, 1, "s2")}
      {line(0, 822, 1201, 1, "s3")}
      {line(0, 877, 1201, 1, "s4")}
      {line(0, 897, 1122, 1, "s5")}
    </div>
  );
}
